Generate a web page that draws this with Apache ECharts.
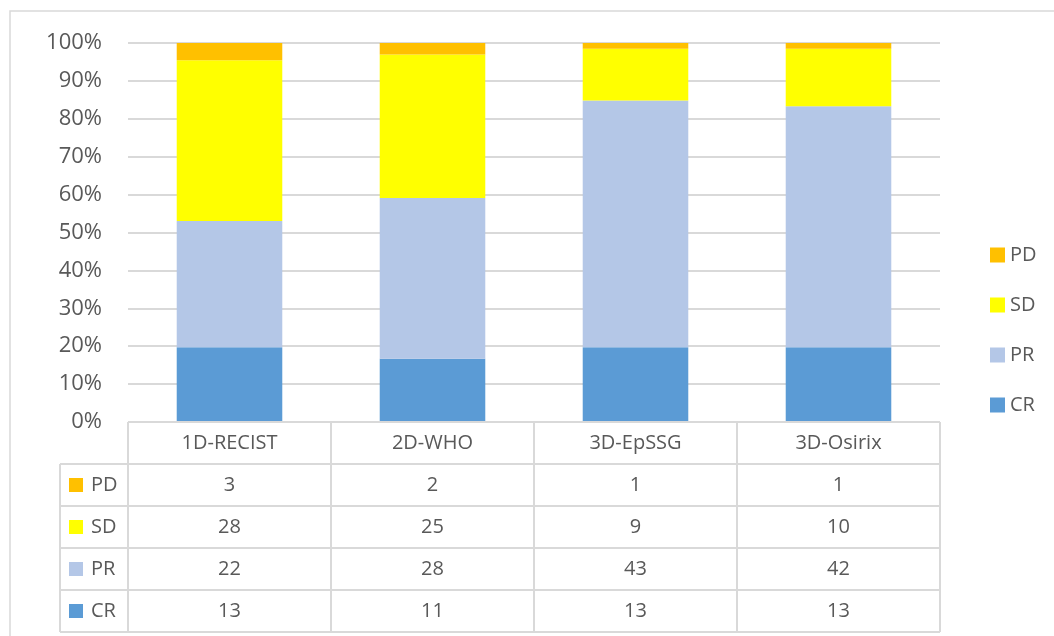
<!DOCTYPE html>
<html>
<head>
<meta charset="utf-8">
<script src="https://cdn.jsdelivr.net/npm/echarts@6/dist/echarts.min.js"></script>
<style>
  html, body { margin: 0; padding: 0; background: #fff; }
  #main { width: 1054px; height: 636px; }
</style>
</head>
<body>
<div id="main"></div>
<script>
// 分类与各系列数据
var categories = ['1D-RECIST', '2D-WHO', '3D-EpSSG', '3D-Osirix'];
var cr = [13, 11, 13, 13];
var pr = [22, 28, 43, 42];
var sd = [28, 25, 9, 10];
var pd = [3, 2, 1, 1];
var yTicks = [0, 10, 20, 30, 40, 50, 60, 70, 80, 90, 100];

var colors = { PD: '#FFC000', SD: '#FFFF00', PR: '#B4C7E7', CR: '#5B9BD5' };
var textColor = '#595959';
var lineColor = '#d9d9d9';
var fontFamily = '"Open Sans", "Liberation Sans", sans-serif';

// 百分比堆积
var totals = categories.map(function (c, i) {
    return cr[i] + pr[i] + sd[i] + pd[i];
});
function toPct(arr) {
    return arr.map(function (v, i) { return v / totals[i] * 100; });
}

var chart = echarts.init(document.getElementById('main'));

function makeSeries(name, arr) {
    return {
        name: name,
        type: 'bar',
        stack: 'total',
        barCategoryGap: '48%',
        itemStyle: { color: colors[name] },
        data: toPct(arr)
    };
}

var option = {
    animation: false,
    textStyle: { fontFamily: fontFamily },
    grid: { left: 128, right: 114, top: 43, bottom: 214 },
    legend: {
        orient: 'vertical',
        left: 985,
        top: 240,
        itemWidth: 15,
        itemHeight: 15,
        itemGap: 30,
        icon: 'rect',
        data: ['PD', 'SD', 'PR', 'CR'],
        textStyle: { fontSize: 20, color: textColor, fontFamily: fontFamily, lineHeight: 20 }
    },
    xAxis: {
        type: 'category',
        data: categories,
        axisLine: { show: false },
        axisTick: { show: false },
        axisLabel: { show: false }
    },
    yAxis: {
        type: 'value',
        min: yTicks[0],
        max: yTicks[yTicks.length - 1],
        interval: 10,
        axisLine: { show: false },
        axisTick: { show: false },
        axisLabel: {
            formatter: '{value}%',
            margin: 26,
            fontSize: 22,
            color: textColor,
            fontFamily: fontFamily
        },
        splitLine: { lineStyle: { color: lineColor, width: 2 } }
    },
    series: [
        makeSeries('CR', cr),
        makeSeries('PR', pr),
        makeSeries('SD', sd),
        makeSeries('PD', pd)
    ]
};
chart.setOption(option);

// 数据表
function buildTable() {
    var rows = [['PD', pd], ['SD', sd], ['PR', pr], ['CR', cr]];
    var x0 = chart.convertToPixel({ xAxisIndex: 0 }, categories[0]);
    var x1 = chart.convertToPixel({ xAxisIndex: 0 }, categories[1]);
    var cw = x1 - x0;
    var left = x0 - cw / 2;
    var right = left + cw * categories.length;
    var top = chart.convertToPixel({ yAxisIndex: 0 }, 0);
    var rowH = 42;
    var labelLeft = 60;
    var bottom = top + rowH * (rows.length + 1);
    var els = [];
    var ls = { stroke: lineColor, lineWidth: 2 };

    // 外框
    els.push({ type: 'rect', shape: { x: 10, y: 11, width: 1100, height: 700 }, style: { fill: null, stroke: lineColor, lineWidth: 1.5 }, z: 0 });

    // 横线
    els.push({ type: 'line', shape: { x1: left, y1: top, x2: right, y2: top }, style: ls, z: 10 });
    for (var k = 1; k <= rows.length + 1; k++) {
        var y = top + k * rowH;
        els.push({ type: 'line', shape: { x1: labelLeft, y1: y, x2: right, y2: y }, style: ls, z: 10 });
    }
    // 竖线
    els.push({ type: 'line', shape: { x1: labelLeft, y1: top + rowH, x2: labelLeft, y2: bottom }, style: ls, z: 10 });
    for (var i = 0; i <= categories.length; i++) {
        var x = left + i * cw;
        els.push({ type: 'line', shape: { x1: x, y1: top, x2: x, y2: bottom }, style: ls, z: 10 });
    }
    // 表头
    categories.forEach(function (c, i) {
        els.push({
            type: 'text', z: 10,
            style: { x: left + (i + 0.5) * cw, y: top + rowH / 2, text: c, align: 'center', verticalAlign: 'middle', fill: textColor, font: '20px ' + fontFamily }
        });
    });
    // 各行
    rows.forEach(function (r, j) {
        var cy = top + (j + 1.5) * rowH;
        els.push({ type: 'rect', z: 10, shape: { x: 69, y: cy - 7, width: 14, height: 14 }, style: { fill: colors[r[0]] } });
        els.push({
            type: 'text', z: 10,
            style: { x: 91, y: cy, text: r[0], align: 'left', verticalAlign: 'middle', fill: textColor, font: '20px ' + fontFamily }
        });
        r[1].forEach(function (v, i) {
            els.push({
                type: 'text', z: 10,
                style: { x: left + (i + 0.5) * cw, y: cy, text: String(v), align: 'center', verticalAlign: 'middle', fill: textColor, font: '20px ' + fontFamily }
            });
        });
    });
    chart.setOption({ graphic: els });
}
buildTable();
</script>
</body>
</html>
